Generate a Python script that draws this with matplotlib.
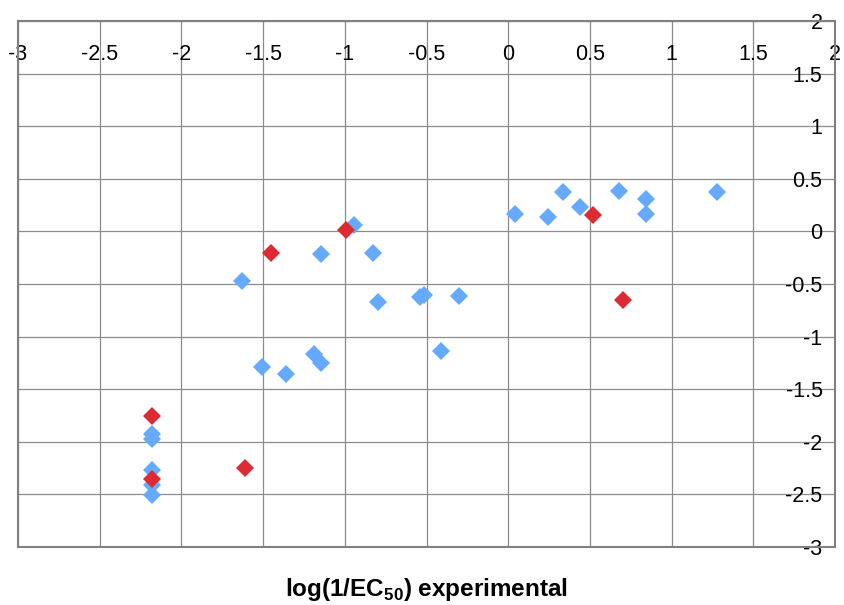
import matplotlib.pyplot as plt

plt.rcParams['font.family'] = ['Liberation Sans', 'DejaVu Sans']
plt.rcParams['mathtext.fontset'] = 'custom'
plt.rcParams['mathtext.rm'] = 'Liberation Sans'
plt.rcParams['mathtext.bf'] = 'Liberation Sans:bold'

# training set (blue) and test set (red)
train_x = [-2.18, -2.18, -2.18, -2.18, -2.18,
           -0.944, -1.148, -0.829, -1.627, -0.799, -0.540, -0.513, -0.299,
           -0.409, -1.505, -1.358, -1.188, -1.148,
           0.042, 0.242, 0.333, 0.441, 0.680, 0.843, 0.843, 1.280]
train_y = [-1.93, -1.97, -2.27, -2.41, -2.51,
           0.058, -0.218, -0.208, -0.474, -0.668, -0.621, -0.605, -0.611,
           -1.134, -1.292, -1.359, -1.165, -1.254,
           0.168, 0.140, 0.375, 0.229, 0.387, 0.305, 0.168, 0.375]

test_x = [-2.18, -2.18, -1.61, -1.45, -0.995, 0.521, 0.701]
test_y = [-1.75, -2.35, -2.25, -0.21, 0.01, 0.153, -0.652]

ticks_x = [-3, -2.5, -2, -1.5, -1, -0.5, 0, 0.5, 1, 1.5, 2]
ticks_y = [-3, -2.5, -2, -1.5, -1, -0.5, 0, 0.5, 1, 1.5, 2]

fig = plt.figure(figsize=(8.44, 6.05), dpi=100)
ax = fig.add_axes([18 / 844, 1 - 547 / 605, 817 / 844, 526 / 605])

ax.plot(train_x, train_y, 'D', color='#66aaff', markersize=9, markeredgewidth=0, zorder=3)
ax.plot(test_x, test_y, 'D', color='#dd2a33', markersize=9, markeredgewidth=0, zorder=4)

ax.set_xlim(-3, 2)
ax.set_ylim(-3, 2)
ax.set_xticks(ticks_x)
ax.set_yticks(ticks_y)
ax.set_xticklabels(['%g' % t for t in ticks_x])
ax.set_yticklabels(['%g' % t for t in ticks_y])

ax.grid(True, color='#8c8c8c', linewidth=0.9)
ax.set_axisbelow(True)
for s in ax.spines.values():
    s.set_color('#808080')
    s.set_linewidth(1.5)

# x labels sit just under the top axis, y labels just left of the right axis
ax.tick_params(axis='x', bottom=False, labelbottom=False, top=True, labeltop=True,
               length=0, pad=-32, labelsize=15.5)
ax.tick_params(axis='y', left=False, labelleft=False, right=True, labelright=True,
               length=0, pad=-9, labelsize=15.5)
for t in ax.yaxis.get_major_ticks():
    t.label2.set_horizontalalignment('right')

ax.set_xlabel(r'log(1/EC$_{\mathbf{50}}$) experimental', fontsize=17.5,
              fontweight='bold', labelpad=21)

fig.savefig('out.png', dpi=100)
